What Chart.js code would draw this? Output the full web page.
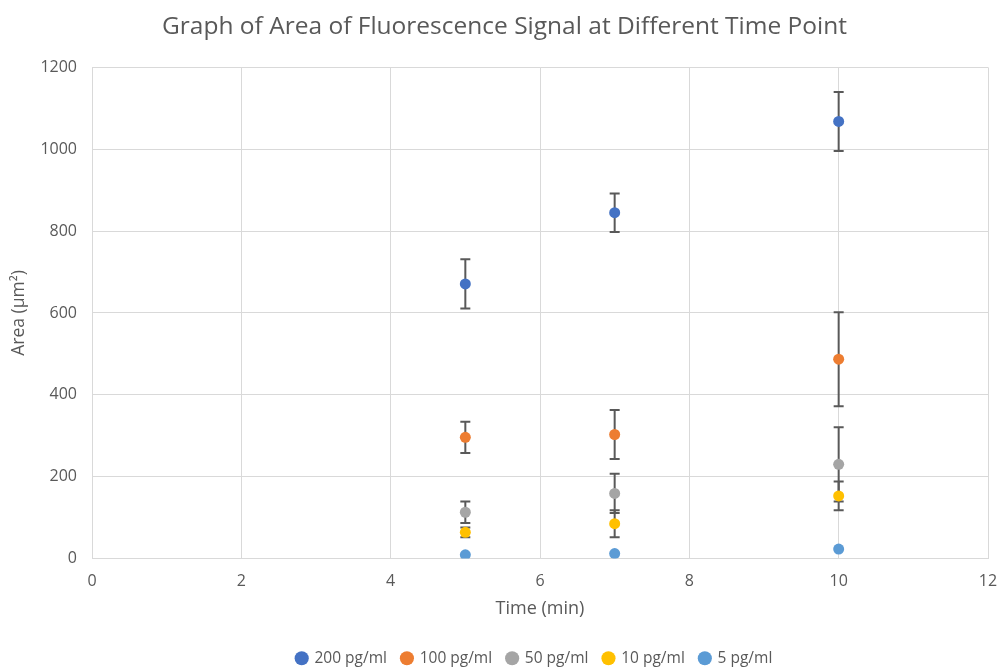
<!DOCTYPE html>
<html>
<head>
<meta charset="utf-8">
<script src="https://cdn.jsdelivr.net/npm/chart.js@4.4.0/dist/chart.umd.min.js"></script>
<style>
  html, body { margin: 0; padding: 0; background: #fff; }
  #wrap { width: 1000px; height: 669px; }
</style>
</head>
<body>
<div id="wrap"><canvas id="grafico" width="1000" height="669"></canvas></div>
<script>
// dados
const tempos = [5, 7, 10];
const series = ['200 pg/ml', '100 pg/ml', '50 pg/ml', '10 pg/ml', '5 pg/ml'];
const cores = ['#4472C4', '#ED7D31', '#A5A5A5', '#FFC000', '#5B9BD5'];

const area200 = [671, 845, 1068];
const area100 = [296, 303, 487];
const area50 = [113, 159, 230];
const area10 = [64, 85, 153];
const area5 = [9, 12, 23];

const erro200 = [60, 47, 72];
const erro100 = [38, 60, 115];
const erro50 = [26, 48, 91];
const erro10 = [12, 33, 35];
const erro5 = [0, 0, 0];

const xTicks = [0, 2, 4, 6, 8, 10, 12];
const yTicks = [0, 200, 400, 600, 800, 1000, 1200];

const valores = [area200, area100, area50, area10, area5];
const erros = [erro200, erro100, erro50, erro10, erro5];

const cinza = '#595959';
const fonte = '"Open Sans", sans-serif';

// barras de erro desenhadas com as escalas do próprio Chart.js
const barrasErro = {
  id: 'barrasErro',
  beforeDatasetsDraw(chart) {
    const ctx = chart.ctx;
    const x = chart.scales.x;
    const y = chart.scales.y;
    ctx.save();
    ctx.strokeStyle = '#595959';
    ctx.lineWidth = 2;
    chart.data.datasets.forEach((ds, i) => {
      ds.data.forEach((p, j) => {
        const e = erros[i][j];
        if (!e) return;
        const px = x.getPixelForValue(p.x);
        const top = y.getPixelForValue(p.y + e);
        const bot = y.getPixelForValue(p.y - e);
        ctx.beginPath();
        ctx.moveTo(px, top); ctx.lineTo(px, bot);
        ctx.moveTo(px - 5, top); ctx.lineTo(px + 5, top);
        ctx.moveTo(px - 5, bot); ctx.lineTo(px + 5, bot);
        ctx.stroke();
      });
    });
    ctx.restore();
  }
};

// empurra a legenda um pouco para a direita e para baixo, como no original
const moveLegenda = {
  id: 'moveLegenda',
  afterLayout(chart) {
    chart.legend.left += 30;
    chart.legend.right += 30;
    chart.legend.top += 4;
    chart.legend.bottom += 4;
  }
};

const ctx = document.getElementById('grafico').getContext('2d');

new Chart(ctx, {
  type: 'scatter',
  data: {
    datasets: series.map((nome, i) => ({
      label: nome,
      data: tempos.map((t, j) => ({ x: t, y: valores[i][j] })),
      backgroundColor: cores[i],
      borderColor: cores[i],
      pointRadius: 5.5,
      pointHoverRadius: 5.5,
      pointBorderWidth: 0
    }))
  },
  plugins: [barrasErro, moveLegenda],
  options: {
    responsive: false,
    animation: false,
    layout: { padding: { left: 9, right: 0, top: 0, bottom: -3 } },
    plugins: {
      title: {
        display: true,
        text: 'Graph of Area of Fluorescence Signal at Different Time Point',
        color: cinza,
        font: { family: fonte, size: 24.5, weight: 'normal' },
        padding: { top: 12, bottom: 26 }
      },
      legend: {
        position: 'bottom',
        labels: {
          usePointStyle: true,
          pointStyle: 'circle',
          boxWidth: 10,
          boxHeight: 10,
          padding: 15,
          color: cinza,
          font: { family: fonte, size: 15.5 }
        }
      },
      tooltip: { enabled: false }
    },
    scales: {
      x: {
        type: 'linear',
        min: 0,
        max: 12,
        afterBuildTicks: (s) => { s.ticks = xTicks.map(v => ({ value: v })); },
        grid: { color: '#D9D9D9', drawTicks: false },
        border: { color: '#D9D9D9' },
        ticks: { color: cinza, padding: 13, font: { family: fonte, size: 16 } },
        title: {
          display: true, text: 'Time (min)', color: cinza,
          font: { family: fonte, size: 18 }, padding: { top: 4, bottom: 12 }
        },
        afterFit: (s) => { s.height = 73; s.paddingRight = 12; }
      },
      y: {
        min: 0,
        max: 1200,
        afterBuildTicks: (s) => { s.ticks = yTicks.map(v => ({ value: v })); },
        grid: { color: '#D9D9D9', drawTicks: false },
        border: { color: '#D9D9D9' },
        ticks: {
          color: cinza, padding: 15, font: { family: fonte, size: 16 },
          callback: (v) => String(v)
        },
        title: {
          display: true, text: 'Area (µm²)', color: cinza,
          font: { family: fonte, size: 17.5 }, padding: { top: 0, bottom: 0 }
        },
        afterFit: (s) => { s.width = 83; }
      }
    }
  }
});
</script>
</body>
</html>
